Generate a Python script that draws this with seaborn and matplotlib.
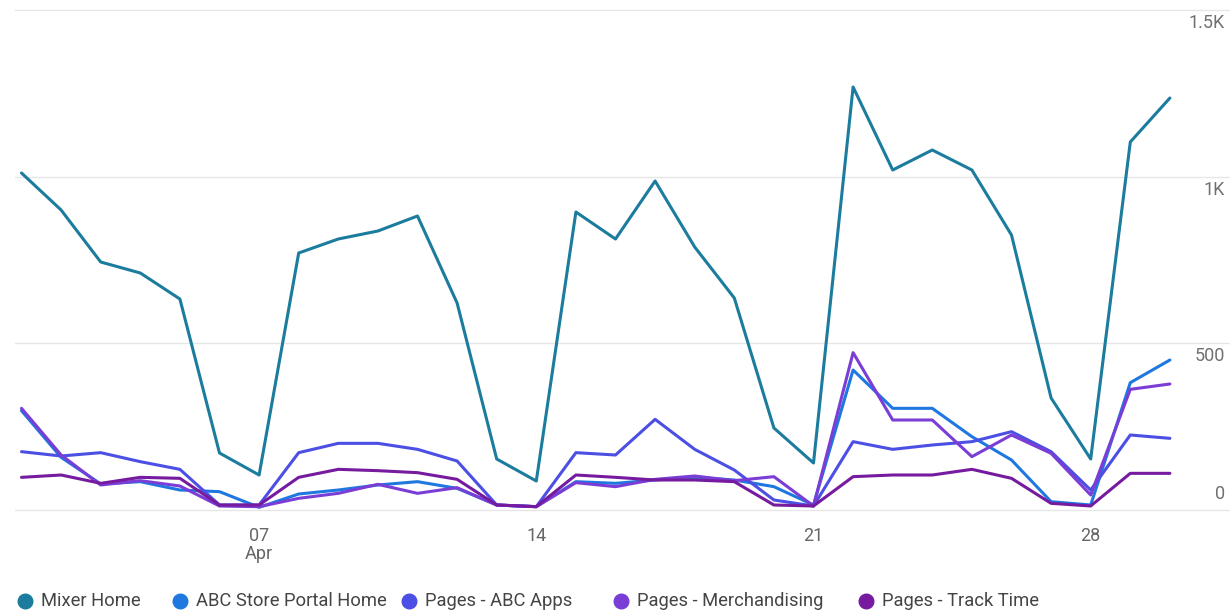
import numpy as np
import pandas as pd
import seaborn as sns
import matplotlib
matplotlib.use("Agg")
import matplotlib.pyplot as plt
from matplotlib.lines import Line2D
from matplotlib import transforms

# Daily page views, 1-30 April
days = list(range(1, 31))
mixer_home = [1011, 900, 744, 711, 633, 171, 105, 771, 813, 837, 882, 621, 153, 87, 894,
              813, 987, 789, 636, 246, 141, 1269, 1020, 1080, 1020, 825, 336, 153, 1104, 1236]
abc_store_portal = [298, 158, 78, 85, 60, 55, 8, 48, 60, 75, 85, 65, 15, 10, 85,
                    80, 90, 98, 90, 70, 15, 420, 305, 305, 220, 150, 25, 15, 382, 450]
abc_apps = [175, 162, 172, 145, 122, 15, 15, 172, 200, 200, 182, 147, 15, 10, 172,
            165, 272, 182, 120, 30, 12, 205, 182, 195, 205, 235, 175, 60, 225, 215]
merchandising = [305, 165, 75, 88, 72, 12, 10, 35, 50, 77, 50, 67, 15, 10, 82,
                 70, 92, 102, 88, 100, 12, 472, 270, 270, 160, 225, 170, 45, 362, 378]
track_time = [98, 105, 80, 98, 95, 15, 15, 98, 122, 118, 112, 92, 15, 10, 105,
              98, 90, 90, 85, 15, 12, 100, 105, 105, 122, 95, 20, 12, 110, 110]

series_names = ["Mixer Home", "ABC Store Portal Home", "Pages - ABC Apps",
                "Pages - Merchandising", "Pages - Track Time"]
series_values = [mixer_home, abc_store_portal, abc_apps, merchandising, track_time]
colors = ["#1b7c9e", "#1f77e0", "#4c4fe3", "#7a3dd6", "#761b9f"]

x_ticks = [7, 14, 21, 28]
x_tick_labels = ["07\nApr", "14", "21", "28"]
y_ticks = [0, 500, 1000, 1500]
y_tick_labels = ["0", "500", "1K", "1.5K"]

df = pd.concat(
    [pd.DataFrame({"day": days, "views": vals, "page": name})
     for name, vals in zip(series_names, series_values)],
    ignore_index=True,
)

sns.set_theme(style="white")
plt.rcParams["font.family"] = ["Roboto", "DejaVu Sans"]

W, H = 1230, 613
fig = plt.figure(figsize=(W / 100, H / 100), dpi=100)
ax = fig.add_axes([15 / W, (H - 510) / H, (1230 - 15) / W, 500 / H])

palette = dict(zip(series_names, colors))
sns.lineplot(data=df, x="day", y="views", hue="page", hue_order=series_names,
             palette=palette, linewidth=2.2, ax=ax, legend=False, sort=False)
for line in ax.lines:
    line.set_clip_on(False)
    line.set_solid_joinstyle("round")

# scale: day 1 at x=21.5 px, 39.6 px per day
px_per_day = 39.6
x0 = 1 - (21.5 - 15) / px_per_day
x1 = x0 + (1230 - 15) / px_per_day
ax.set_xlim(x0, x1)
ax.set_ylim(0, 1500)

# horizontal gridlines
for yv in y_ticks:
    ax.axhline(yv, color="#e6e6e6", linewidth=1, zorder=0, clip_on=False)

for s in ax.spines.values():
    s.set_visible(False)

ax.set_xticks(x_ticks)
ax.set_xticklabels(x_tick_labels, color="#666666", fontsize=13, linespacing=1.05)
ax.tick_params(axis="x", length=0, pad=12)
ax.set_yticks([])
ax.set_xlabel("")
ax.set_ylabel("")

# value labels at the right edge
trans = transforms.blended_transform_factory(fig.transFigure, ax.transData)
for yv, lab in zip(y_ticks, y_tick_labels):
    if yv == 0:
        off = transforms.ScaledTranslation(0, 7 / 100, fig.dpi_scale_trans)
        va = "bottom"
    else:
        off = transforms.ScaledTranslation(0, -4 / 100, fig.dpi_scale_trans)
        va = "top"
    ax.text(1225 / W, yv, lab, transform=trans + off, ha="right", va=va,
            color="#707070", fontsize=13)

# legend row along the bottom
legend_dot_x = [25, 180, 409, 621, 866]
legend_y = 1 - 601 / H
for name, c, dx in zip(series_names, colors, legend_dot_x):
    fig.add_artist(Line2D([dx / W], [legend_y], marker="o", markersize=10.5,
                          markerfacecolor=c, markeredgecolor=c, linestyle="",
                          transform=fig.transFigure))
    fig.text((dx + 16) / W, legend_y, name, ha="left", va="center",
             fontsize=13.2, color="#444444")

fig.savefig("out.png", dpi=100, facecolor="white")
